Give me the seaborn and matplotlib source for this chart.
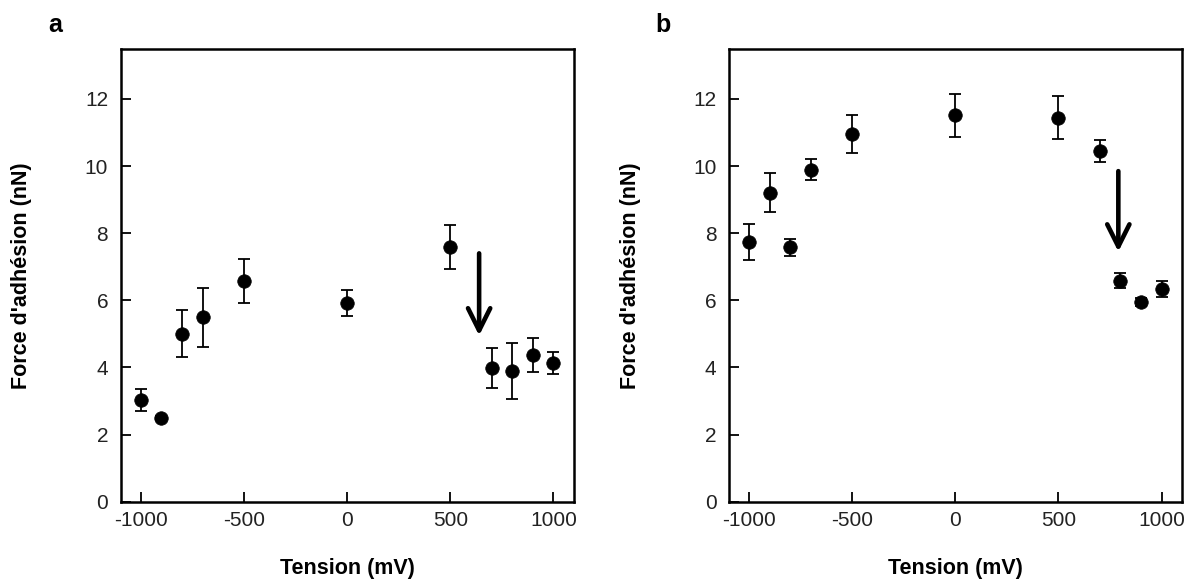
import matplotlib
matplotlib.use("Agg")
import matplotlib.pyplot as plt
import seaborn as sns
import pandas as pd
import numpy as np

# Tension (mV)
tension = [-1000, -900, -800, -700, -500, 0, 500, 700, 800, 900, 1000]

# panel a: force d'adhésion (nN) and error
force_a = [3.03, 2.50, 5.01, 5.49, 6.58, 5.92, 7.58, 3.98, 3.90, 4.37, 4.14]
err_a = [0.33, 0.06, 0.71, 0.87, 0.66, 0.40, 0.66, 0.59, 0.84, 0.50, 0.33]

# panel b
force_b = [7.73, 9.21, 7.58, 9.89, 10.96, 11.52, 11.44, 10.46, 6.59, 5.94, 6.34]
err_b = [0.54, 0.58, 0.25, 0.31, 0.56, 0.64, 0.64, 0.33, 0.23, 0.12, 0.24]

# arrows (x, y start, y end)
arrow_a = (640, 7.4, 4.95)
arrow_b = (790, 9.85, 7.45)

sns.set_style("ticks")
plt.rcParams['font.family'] = ['Liberation Sans', 'DejaVu Sans']
plt.rcParams['axes.unicode_minus'] = False
for key in ['text.color', 'axes.labelcolor', 'xtick.color', 'ytick.color']:
    plt.rcParams[key] = 'black'

fig = plt.figure(figsize=(11.88, 5.8), dpi=100)
ax_a = fig.add_axes([0.1016, 0.135, 0.3816, 0.78])
ax_b = fig.add_axes([0.6136, 0.135, 0.3816, 0.78])

panels = [(ax_a, force_a, err_a, arrow_a, 'a'), (ax_b, force_b, err_b, arrow_b, 'b')]

for ax, force, err, arrow, letter in panels:
    df = pd.DataFrame({'Tension': tension, 'Force': force, 'err': err})
    ax.errorbar(df['Tension'], df['Force'], yerr=df['err'], fmt='none',
                ecolor='black', elinewidth=1.3, capsize=4, capthick=1.3, zorder=2)
    sns.scatterplot(data=df, x='Tension', y='Force', ax=ax, color='black',
                    s=95, edgecolor='black', linewidth=0.5, zorder=3)
    ax.annotate('', xy=(arrow[0], arrow[2]), xytext=(arrow[0], arrow[1]),
                arrowprops=dict(arrowstyle='->', lw=3.3, color='black',
                                mutation_scale=40, shrinkA=0, shrinkB=0))
    ax.set_xlim(-1097, 1100)
    ax.set_ylim(0, 13.48)
    ax.set_xticks([-1000, -500, 0, 500, 1000])
    ax.set_yticks([0, 2, 4, 6, 8, 10, 12])
    ax.tick_params(direction='in', length=7.5, width=1.3, labelsize=15,
                   colors='black', labelcolor='#222222')
    ax.tick_params(axis='x', pad=7)
    ax.tick_params(axis='y', pad=9)
    for sp in ax.spines.values():
        sp.set_visible(True)
        sp.set_linewidth(1.8)
        sp.set_color('black')
    ax.set_xlabel('Tension (mV)', fontsize=15.5, fontweight='bold')
    ax.set_ylabel("Force d'adhésion (nN)", fontsize=15.5, fontweight='bold')
    ax.xaxis.set_label_coords(0.5, -0.1466)
    ax.xaxis.label.set_verticalalignment('center')
    ax.yaxis.set_label_coords(-0.218, 0.5)
    ax.yaxis.label.set_verticalalignment('center')
    ax.text(-0.145, 1.054, letter, transform=ax.transAxes, fontsize=18,
            fontweight='bold', va='center', ha='center')

fig.savefig('out.png', dpi=100)
